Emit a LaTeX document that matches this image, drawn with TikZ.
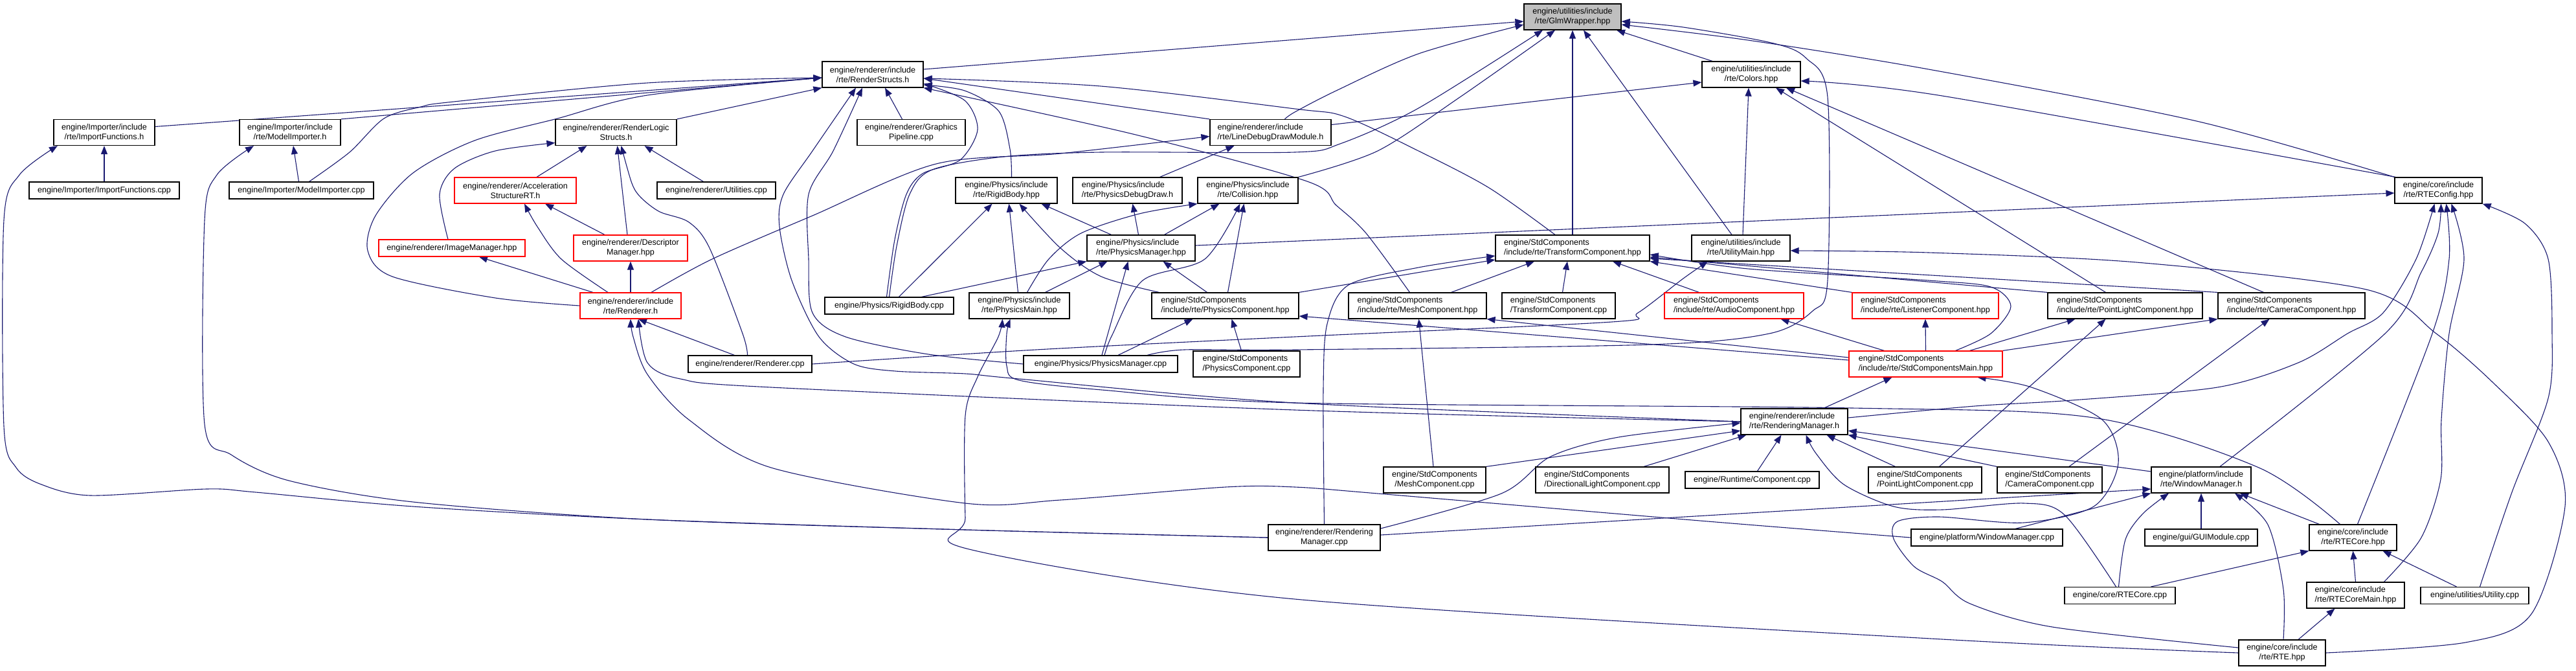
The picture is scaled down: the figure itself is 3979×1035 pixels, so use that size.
\documentclass[tikz,border=0pt]{standalone}
\usepackage{fontspec}
\setmainfont{Liberation Sans}
\usetikzlibrary{arrows.meta}
\definecolor{edgeblue}{HTML}{191970}
\definecolor{glmgray}{HTML}{BFBFBF}
\pgfdeclarelayer{bg}
\pgfsetlayers{bg,main}
\tikzset{
  fbox/.style={draw=black, line width=0.6pt, fill=white, inner sep=0pt, align=center,
    font=\fontsize{6.3}{7.5}\selectfont, minimum height=20pt},
  redbox/.style={fbox, draw=red},
  onebox/.style={fbox, minimum height=13pt},
  conn/.style={draw=edgeblue, line width=0.55pt, -{Triangle[length=6.5pt,width=5pt]}},
}
\begin{document}
\begin{tikzpicture}[x=0.5pt,y=-0.5pt]
\useasboundingbox (0,0) rectangle (3979,1035);
% ---------------- nodes ----------------
\node[fbox, fill=glmgray, minimum width=75pt] (glm) at (2429,26) {engine/utilities/include\\/rte/GlmWrapper.hpp};
\node[fbox, minimum width=78pt] (rs) at (1348,115) {engine/renderer/include\\/rte/RenderStructs.h};
\node[fbox, minimum width=76pt] (colors) at (2705,115) {engine/utilities/include\\/rte/Colors.hpp};
\node[fbox, minimum width=78pt] (impfh) at (161,204.5) {engine/Importer/include\\/rte/ImportFunctions.h};
\node[fbox, minimum width=78pt] (modimph) at (448,204.5) {engine/Importer/include\\/rte/ModelImporter.h};
\node[fbox, minimum width=93.5pt] (rls) at (951.5,204.5) {engine/renderer/RenderLogic\\Structs.h};
\node[fbox, minimum width=83.5pt] (gp) at (1407.5,204.5) {engine/renderer/Graphics\\Pipeline.cpp};
\node[fbox, align=left, minimum width=93.5pt] (ldd) at (1962.5,204.5) {engine/renderer/include\\/rte/LineDebugDrawModule.h};
\node[onebox, minimum width=116pt] (impfcpp) at (161,294) {engine/Importer/ImportFunctions.cpp};
\node[onebox, minimum width=111.5pt] (modimpcpp) at (465.5,294) {engine/Importer/ModelImporter.cpp};
\node[redbox, minimum width=94pt] (accel) at (796,294) {engine/renderer/Acceleration\\StructureRT.h};
\node[onebox, minimum width=91.5pt] (util) at (1106.5,294) {engine/renderer/Utilities.cpp};
\node[fbox, minimum width=78.5pt] (rbh) at (1554.5,294) {engine/Physics/include\\/rte/RigidBody.hpp};
\node[fbox, align=left, minimum width=84.5pt] (pdd) at (1741.5,294) {engine/Physics/include\\/rte/PhysicsDebugDraw.h};
\node[fbox, minimum width=77.5pt] (coll) at (1927.5,294) {engine/Physics/include\\/rte/Collision.hpp};
\node[fbox, minimum width=67.5pt] (cfg) at (3766.5,294) {engine/core/include\\/rte/RTEConfig.hpp};
\node[onebox, draw=red, minimum width=113pt] (imgmgr) at (698,383) {engine/renderer/ImageManager.hpp};
\node[redbox, minimum width=88pt] (desc) at (974,383) {engine/renderer/Descriptor\\Manager.hpp};
\node[fbox, align=left, minimum width=83.5pt] (pmh) at (1762.5,383) {engine/Physics/include\\/rte/PhysicsManager.hpp};
\node[fbox, align=left, minimum width=119pt] (tch) at (2429,383) {engine/StdComponents\\/include/rte/TransformComponent.hpp};
\node[fbox, minimum width=76pt] (um) at (2689,383) {engine/utilities/include\\/rte/UtilityMain.hpp};
\node[redbox, minimum width=78pt] (rh) at (974,472) {engine/renderer/include\\/rte/Renderer.h};
\node[onebox, minimum width=99.5pt] (rbcpp) at (1373.5,472) {engine/Physics/RigidBody.cpp};
\node[fbox, minimum width=77.5pt] (pmain) at (1574.5,472) {engine/Physics/include\\/rte/PhysicsMain.hpp};
\node[fbox, align=left, minimum width=113.5pt] (pch) at (1892.5,472) {engine/StdComponents\\/include/rte/PhysicsComponent.hpp};
\node[fbox, align=left, minimum width=106.5pt] (mch) at (2189.5,472) {engine/StdComponents\\/include/rte/MeshComponent.hpp};
\node[fbox, align=left, minimum width=87.5pt] (tccpp) at (2407.5,472) {engine/StdComponents\\/TransformComponent.cpp};
\node[redbox, align=left, minimum width=107.5pt] (ach) at (2678.5,472) {engine/StdComponents\\/include/rte/AudioComponent.hpp};
\node[redbox, align=left, minimum width=113pt] (lch) at (2974,472) {engine/StdComponents\\/include/rte/ListenerComponent.hpp};
\node[fbox, align=left, minimum width=119.5pt] (plh) at (3282.5,472) {engine/StdComponents\\/include/rte/PointLightComponent.hpp};
\node[fbox, align=left, minimum width=113.5pt] (camh) at (3539.5,472) {engine/StdComponents\\/include/rte/CameraComponent.hpp};
\node[onebox, minimum width=95.5pt] (rcpp) at (1158.5,562) {engine/renderer/Renderer.cpp};
\node[onebox, minimum width=119pt] (pmcpp) at (1700,562) {engine/Physics/PhysicsManager.cpp};
\node[fbox, align=left, minimum width=82.5pt] (pccpp) at (1925.5,562) {engine/StdComponents\\/PhysicsComponent.cpp};
\node[redbox, align=left, minimum width=118.5pt] (scm) at (2974.5,562) {engine/StdComponents\\/include/rte/StdComponentsMain.hpp};
\node[fbox, align=left, minimum width=82.5pt] (rmh) at (2771.5,651) {engine/renderer/include\\/rte/RenderingManager.h};
\node[fbox, minimum width=79pt] (mccpp) at (2216,741) {engine/StdComponents\\/MeshComponent.cpp};
\node[fbox, align=left, minimum width=103pt] (dlcpp) at (2475,741) {engine/StdComponents\\/DirectionalLightComponent.cpp};
\node[onebox, minimum width=103.5pt] (compcpp) at (2706.5,741) {engine/Runtime/Component.cpp};
\node[fbox, align=left, minimum width=87.5pt] (plcpp) at (2973.5,741) {engine/StdComponents\\/PointLightComponent.cpp};
\node[fbox, align=left, minimum width=81pt] (camcpp) at (3166,741) {engine/StdComponents\\/CameraComponent.cpp};
\node[fbox, minimum width=77pt] (wmh) at (3400,741) {engine/platform/include\\/rte/WindowManager.h};
\node[fbox, minimum width=86.5pt] (rmcpp) at (2045.5,830) {engine/renderer/Rendering\\Manager.cpp};
\node[onebox, minimum width=117pt] (wmcpp) at (3069,830) {engine/platform/WindowManager.cpp};
\node[onebox, minimum width=87pt] (gui) at (3400,830) {engine/gui/GUIModule.cpp};
\node[fbox, minimum width=67.5pt] (rtecore) at (3634.5,830) {engine/core/include\\/rte/RTECore.hpp};
\node[onebox, minimum width=85.5pt] (rtecorecpp) at (3274.5,919.5) {engine/core/RTECore.cpp};
\node[fbox, align=left, minimum width=75.5pt] (rtecoremain) at (3638.5,919) {engine/core/include\\/rte/RTECoreMain.hpp};
\node[onebox, minimum width=83.5pt] (utilcpp) at (3822.5,919.5) {engine/utilities/Utility.cpp};
\node[fbox, minimum width=67pt] (rte) at (3525,1008) {engine/core/include\\/rte/RTE.hpp};
% ---------------- connectors ----------------
\begin{pgfonlayer}{bg}
% into GlmWrapper
\draw[conn] ([yshift=4pt]rs.east) -- ([yshift=-3.5pt]glm.west);
\draw[conn] plot[smooth] coordinates {([xshift=11pt]ldd.north) (2000,173) (2064,140) (2191,83) ([yshift=-6pt]glm.west)};
\draw[conn] plot[smooth] coordinates {(rbcpp.north) (1385,380) (1405,300) (1440,262) (1550,242) (1701,235) (2000,235) (2070,222) (2191,167) ([xshift=-23pt]glm.south)};
\draw[conn] plot[smooth] coordinates {(coll.north east) (2128,233) (2255,150) ([xshift=-13.5pt]glm.south)};
\draw[conn] (tch.north) -- (glm.south);
\draw[conn] ([xshift=-7pt]um.north) -- ([xshift=8.5pt]glm.south);
\draw[conn] ([xshift=-30pt]colors.north) -- ([xshift=34pt]glm.south);
\draw[conn] plot[smooth] coordinates {([xshift=36pt]pmcpp.north) (1829,540) (2000,540) (2550,532) (2733,515) (2800,480) (2823,433) (2823,150) (2790,90) (2740,67) (2600,42) ([yshift=-3.5pt]glm.east)};
\draw[conn] plot[smooth] coordinates {(cfg.north west) (3393,187) (2979,107) (2700,62) ([yshift=-6pt]glm.east)};
% into Colors
\draw[conn] ([yshift=6pt]ldd.east) -- ([yshift=-6pt]colors.west);
\draw[conn] ([xshift=1.5pt]um.north) -- ([xshift=-2pt]colors.south);
\draw[conn] ([xshift=-15pt]plh.north) -- ([xshift=19pt]colors.south);
\draw[conn] ([xshift=-21.5pt]camh.north) -- ([xshift=27pt]colors.south);
\draw[conn] plot[smooth] coordinates {([xshift=1pt]cfg.north west) (3000,148) ([yshift=-5pt]colors.east)};
% into RenderStructs
\draw[conn] ([yshift=4.5pt]impfh.east) -- ([yshift=-2.5pt]rs.west);
\draw[conn] (modimph.north east) -- ([yshift=-2.5pt]rs.west);
\draw[conn] plot[smooth] coordinates {([xshift=6pt]modimpcpp.north) (540,235) (593,183) (650,165) (701,157) (1000,128) ([yshift=-2.5pt]rs.west)};
\draw[conn] plot[smooth] coordinates {(rh.west) (765,460) (606,427) (568,387) (580,333) (638,267) (733,217) (861,183) (1000,147) ([yshift=-2.5pt]rs.west)};
\draw[conn] (rls.north east) -- (rs.south west);
\draw[conn] ([xshift=-7pt]gp.north) -- ([xshift=9.5pt]rs.south);
\draw[conn] plot[smooth] coordinates {(rmh.west) (2000,622) (1574,585) (1491,577) (1383,573) (1319,562) (1265,520) (1223,433) (1204,350) (1210,300) (1255,233) ([xshift=-13pt]rs.south)};
\draw[conn] plot[smooth] coordinates {(pmcpp.west) (1434,547) (1306,520) (1255,483) (1249,400) (1249,300) (1287,233) ([xshift=-8pt]rs.south)};
\draw[conn] plot[smooth] coordinates {([xshift=-2pt]rbcpp.north) (1382,370) (1400,300) (1425,268) (1483,247) (1510,200) (1490,155) ([yshift=-7pt]rs.east)};
\draw[conn] plot[smooth] coordinates {([xshift=4pt]rbh.north) (1560,230) (1543,172) (1490,140) ([yshift=-8pt]rs.east)};
\draw[conn] (ldd.north west) -- ([yshift=-3pt]rs.east);
\draw[conn] plot[smooth] coordinates {([xshift=-13.5pt]tch.north) (2300,290) (2191,233) (2077,180) (2000,168) (1700,133) ([yshift=-3pt]rs.east)};
\draw[conn] plot[smooth] coordinates {([xshift=-6pt]mch.north) (2110,360) (2064,317) (2019,280) (1750,207) (rs.south east)};
% into ImportFunctions.h / ModelImporter.h
\draw[conn] (impfcpp) -- (impfh);
\draw[conn] plot[smooth] coordinates {(rmcpp.west) (1491,818) (1000,802) (638,782) (395,760) (319,755) (140,765) (64,748) (25,722) (6,658) (6,340) (30,270) ([xshift=-36pt]impfh.south)};
\draw[conn] ([xshift=-2pt]modimpcpp.north) -- ([xshift=2.5pt]modimph.south);
\draw[conn] plot[smooth] coordinates {(rmcpp.west) (1491,818) (1000,802) (638,775) (446,742) (357,702) (316,655) (316,340) (335,270) ([xshift=-28pt]modimph.south)};
% into RenderLogicStructs
\draw[conn] ([xshift=16.5pt]accel.north) -- ([xshift=-22.5pt]rls.south);
\draw[conn] ([xshift=-2.5pt]desc.north) -- ([xshift=1pt]rls.south);
\draw[conn] plot[smooth] coordinates {([xshift=-2pt]rcpp.north) (1147,515) (1096,383) (1064,343) (1019,327) (990,305) (976,283) ([xshift=4pt]rls.south)};
\draw[conn] ([xshift=-10pt]util.north) -- ([xshift=22pt]rls.south);
\draw[conn] plot[smooth] coordinates {([xshift=-3pt]imgmgr.north) (679,300) (702,260) (765,233) ([yshift=-8pt]rls.west)};
% into Acceleration / ImageManager / Descriptor
\draw[conn] plot[smooth] coordinates {([xshift=-17.5pt]rh.north) (867,400) (830,350) ([xshift=7pt]accel.south)};
\draw[conn] ([xshift=-20pt]desc.north) -- ([xshift=23pt]accel.south);
\draw[conn] ([xshift=-29pt]rh.north) -- ([xshift=21pt]imgmgr.south);
\draw[conn] (rh) -- (desc);
% into Renderer.h
\draw[conn] ([xshift=-12pt]rcpp.north) -- ([xshift=6pt]rh.south);
\draw[conn] plot[smooth] coordinates {(rmh.west) (2000,633) (1191,598) (1051,585) (1000,560) ([xshift=6pt]rh.south)};
\draw[conn] plot[smooth] coordinates {(wmcpp.west) (2638,805) (2128,762) (2000,752) (1893,752) (1638,772) (1491,777) (1191,722) (1064,648) (1000,578) (978,520) (rh.south)};
% into LineDebugDrawModule
\draw[conn] plot[smooth] coordinates {([xshift=16pt]rh.north) (1100,400) (1255,333) (1446,253) (1638,237) ([yshift=-3pt]ldd.west)};
\draw[conn] ([xshift=25pt]pdd.north) -- ([xshift=-28pt]ldd.south);
% into PhysicsDebugDraw
\draw[conn] ([xshift=-2pt]pmh.north) -- ([xshift=4pt]pdd.south);
% into RigidBody.hpp
\draw[conn] ([xshift=7.5pt]rbcpp.north) -- ([xshift=-11pt]rbh.south);
\draw[conn] ([xshift=-1pt]pmain.north) -- ([xshift=2pt]rbh.south);
\draw[conn] plot[smooth] coordinates {([xshift=-51pt]pch.north) (1701,427) (1638,383) ([xshift=10pt]rbh.south)};
\draw[conn] ([xshift=-23pt]pmh.north) -- ([xshift=27pt]rbh.south);
% into Collision
\draw[conn] plot[smooth] coordinates {([xshift=6pt]pmain.north) (1620,400) (1670,360) (1760,330) (coll.south west)};
\draw[conn] ([xshift=18pt]pmh.north) -- ([xshift=-22pt]coll.south);
\draw[conn] plot[smooth] coordinates {([xshift=3pt]pmcpp.north) (1718,517) (1765,433) (1861,400) ([xshift=-6pt]coll.south)};
\draw[conn] ([xshift=2pt]pch.north) -- ([xshift=-3pt]coll.south);
% into PhysicsManager.hpp
\draw[conn] ([xshift=25pt]rbcpp.north) -- (pmh.south west);
\draw[conn] ([xshift=20pt]pmain.north) -- ([xshift=-26pt]pmh.south);
\draw[conn] ([xshift=1pt]pmcpp.north) -- ([xshift=-10pt]pmh.south);
\draw[conn] ([xshift=-14pt]pch.north) -- ([xshift=17pt]pmh.south);
% into PhysicsMain
\draw[conn] plot[smooth] coordinates {(rte.west) (3000,987) (2000,925) (1497,848) (1491,800) (1491,642) (1510,582) (1542,520) ([xshift=-13pt]pmain.south)};
\draw[conn] plot[smooth] coordinates {([xshift=-10pt]rtecore.north) (3489,722) (3234,645) (2861,630) (2000,622) (1702,602) (1574,587) (1555,565) (1555,515) ([xshift=-7pt]pmain.south)};
% into PhysicsComponent.hpp
\draw[conn] ([xshift=13.5pt]pmcpp.north) -- ([xshift=-25pt]pch.south);
\draw[conn] ([xshift=-4pt]pccpp.north) -- ([xshift=5pt]pch.south);
\draw[conn] ([yshift=3pt]scm.west) -- ([yshift=-8pt]pch.east);
% into TransformComponent.hpp
\draw[conn] plot[smooth] coordinates {(rmcpp.north) (2044,600) (2050,500) (2083,440) (2191,413) ([yshift=-6pt]tch.west)};
\draw[conn] (pch.north east) -- ([yshift=-9pt]tch.west);
\draw[conn] ([xshift=26pt]mch.north) -- ([xshift=-29.5pt]tch.south);
\draw[conn] ([xshift=3pt]tccpp.north) -- ([xshift=-4pt]tch.south);
\draw[conn] ([xshift=-27pt]ach.north) -- ([xshift=31pt]tch.south);
\draw[conn] (lch.north west) -- (tch.south east);
\draw[conn] (plh.north west) -- ([yshift=-7pt]tch.east);
\draw[conn] (camh.north west) -- ([yshift=-8pt]tch.east);
\draw[conn] plot[smooth] coordinates {([xshift=23pt]scm.north) (3075,515) (3106,473) (3075,443) (2979,433) (2700,415) ([yshift=-5pt]tch.east)};
% into UtilityMain
\draw[conn] plot[smooth] coordinates {(rcpp.east) (1600,540) (2000,520) (2490,497) (2530,483) (2600,430) ([xshift=-25.5pt]um.south)};
\draw[conn] plot[smooth] coordinates {(rte.east) (3808,992) (3910,948) (3962,782) (3936,682) (3850,590) (3763,515) (3655,447) (3300,405) (2979,390) ([yshift=-2pt]um.east)};
% into MeshComponent.hpp
\draw[conn] ([yshift=5pt]scm.west) -- (mch.south east);
\draw[conn] ([xshift=-1pt]mccpp.north) -- ([xshift=1pt]mch.south);
% into component headers
\draw[conn] ([xshift=-32pt]scm.north) -- ([xshift=36pt]ach.south);
\draw[conn] (scm.north) -- (lch.south);
\draw[conn] ([xshift=34pt]scm.north) -- ([xshift=-38.5pt]plh.south);
\draw[conn] (scm.north east) -- (camh.south west);
\draw[conn] ([xshift=11pt]plcpp.north) -- ([xshift=-15pt]plh.south);
\draw[conn] ([xshift=15pt]camcpp.north) -- ([xshift=-17pt]camh.south);
% into StdComponentsMain
\draw[conn] ([xshift=22.5pt]rmh.north) -- ([xshift=-26pt]scm.south);
\draw[conn] plot[smooth] coordinates {([yshift=4pt]rte.west) (3170,968) (3043,932) (3000,898) (2957,875) (2925,832) (2931,805) (2995,798) (3126,807) (3234,782) (3272,715) (3247,648) (3138,598) ([xshift=40pt]scm.south)};
% into RenderingManager.h
\draw[conn] plot[smooth] coordinates {([yshift=7pt]rmcpp.east) (2319,762) (2395,705) (2500,675) ([yshift=-1pt]rmh.west)};
\draw[conn] (mccpp.north east) -- ([yshift=-7pt]rmh.west);
\draw[conn] ([xshift=32pt]dlcpp.north) -- ([xshift=-37pt]rmh.south);
\draw[conn] ([xshift=4pt]compcpp.north) -- ([xshift=-10pt]rmh.south);
\draw[conn] plot[smooth] coordinates {([xshift=-3pt]rtecorecpp.north) (3189,795) (3126,777) (3000,787) (2925,782) (2848,748) (2805,700) ([xshift=9pt]rmh.south)};
\draw[conn] ([xshift=-23pt]plcpp.north) -- ([xshift=25pt]rmh.south);
\draw[conn] ([yshift=6.5pt]wmh.west) -- ([yshift=-7pt]rmh.east);
\draw[conn] (camcpp.north west) -- (rmh.south east);
% into RTEConfig
\draw[conn] ([yshift=2pt]pmh.east) -- ([yshift=-2pt]cfg.west);
\draw[conn] plot[smooth] coordinates {([yshift=3pt]rmh.east) (3050,627) (3200,618) (3425,598) (3550,560) (3626,515) (3681,483) (3732,400) ([xshift=-3pt]cfg.south)};
\draw[conn] plot[smooth] coordinates {([xshift=14.5pt]wmh.north) (3684,515) (3740,420) (3766,360) ([xshift=2pt]cfg.south)};
\draw[conn] plot[smooth] coordinates {([xshift=3.5pt]rtecore.north) (3757,515) (3783,400) ([xshift=6pt]cfg.south)};
\draw[conn] plot[smooth] coordinates {([xshift=22pt]rtecoremain.north) (3740,830) (3770,740) (3771,648) (3783,515) (3806,400) ([xshift=10pt]cfg.south)};
\draw[conn] plot[smooth] coordinates {([xshift=4pt]utilcpp.north) (3880,760) (3936,615) (3942,515) (3936,400) (3900,345) (cfg.south east)};
% into WindowManager.h
\draw[conn] ([xshift=-26pt]rtecore.north) -- ([xshift=30pt]wmh.south);
\draw[conn] plot[smooth] coordinates {([xshift=-1pt]rtecorecpp.north) (3283,833) (3310,793) ([xshift=-25pt]wmh.south)};
\draw[conn] (gui) -- (wmh);
\draw[conn] plot[smooth] coordinates {([xshift=1pt]rte.north) (3527,910) (3503,810) ([xshift=26pt]wmh.south)};
\draw[conn] ([xshift=22pt]wmcpp.north) -- (wmh.south west);
\draw[conn] ([yshift=2pt]rmcpp.east) -- ([yshift=-7pt]wmh.west);
% into RTECore / RTECoreMain
\draw[conn] ([xshift=24pt]rtecorecpp.north) -- (rtecore.south west);
\draw[conn] (rtecoremain.north) -- (rtecore.south);
\draw[conn] ([xshift=-14pt]utilcpp.north) -- ([xshift=23pt]rtecore.south);
\draw[conn] ([xshift=12.5pt]rte.north) -- ([xshift=-16pt]rtecoremain.south);
\end{pgfonlayer}
\end{tikzpicture}
\end{document}
